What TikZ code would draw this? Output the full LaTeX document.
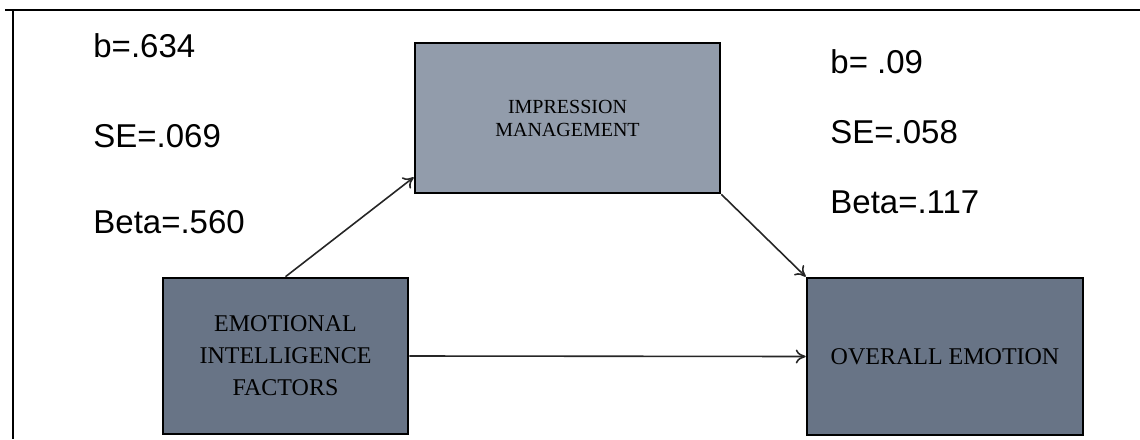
\documentclass[tikz,border=0pt]{standalone}
\usepackage{fontspec}
\setmainfont{Liberation Serif}
\newfontfamily\labelfont{Liberation Sans}
\usetikzlibrary{arrows.meta}
\definecolor{boxdark}{RGB}{104,116,134}
\definecolor{boxlight}{RGB}{146,156,171}
\tikzset{
  varbox/.style={draw=black,line width=1.3pt,fill=boxdark,inner sep=0pt,
    align=center,font=\fontsize{12}{16}\selectfont},
  coef/.style={anchor=base west,inner sep=0pt,font=\labelfont\fontsize{16.5}{18}\selectfont},
  path/.style={draw=black!85,line width=0.8pt,-{To[length=5pt,width=7pt]}}
}
\begin{document}
\begin{tikzpicture}[x=0.5pt,y=-0.5pt]
  \useasboundingbox (0,0) rectangle (1140,439);
  % frame
  \draw[line width=1.1pt] (5,10) -- (1140,10);
  \draw[line width=1.1pt] (13,10) -- (13,439);
  % variables
  \node[varbox,minimum width=122.5pt,minimum height=78pt] (ei) at (285.5,356)
    {EMOTIONAL\\INTELLIGENCE\\FACTORS};
  \node[varbox,fill=boxlight,minimum width=152.5pt,minimum height=75pt,
    font=\fontsize{10}{11.5}\selectfont] (im) at (567.5,118)
    {IMPRESSION\\MANAGEMENT};
  \node[varbox,minimum width=138pt,minimum height=78.5pt] (oe) at (945,356.5)
    {OVERALL EMOTION};
  % coefficients
  \node[coef] (b1) at (93,57) {b=.634};
  \node[coef] (se1) at (93,147) {SE=.069};
  \node[coef] (beta1) at (93,233) {Beta=.560};
  \node[coef] (b2) at (830,73) {b= .09};
  \node[coef] (se2) at (830,143) {SE=.058};
  \node[coef] (beta2) at (830,213) {Beta=.117};
  % paths
  \draw[path] (ei.north) -- ([yshift=8.5pt]im.south west);
  \draw[path] (im.south east) -- (oe.north west);
  \draw[path] (ei.east) -- (oe.west);
\end{tikzpicture}
\end{document}
